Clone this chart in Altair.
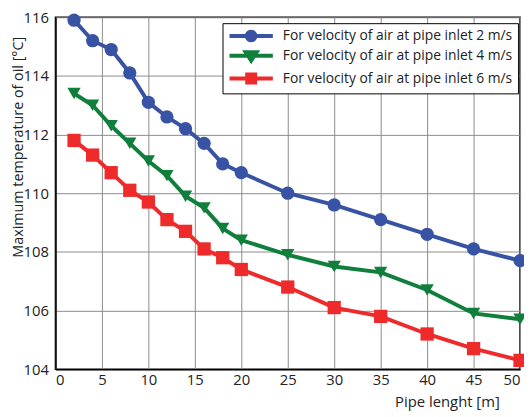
import altair as alt
import pandas as pd

x_vals = [2, 4, 6, 8, 10, 12, 14, 16, 18, 20, 25, 30, 35, 40, 45, 50]
blue_vals = [115.9, 115.2, 114.9, 114.1, 113.1, 112.6, 112.2, 111.7, 111.0, 110.7,
             110.0, 109.6, 109.1, 108.6, 108.1, 107.7]
green_vals = [113.4, 113.0, 112.3, 111.7, 111.1, 110.6, 109.9, 109.5, 108.8, 108.4,
              107.9, 107.5, 107.3, 106.7, 105.9, 105.7]
red_vals = [111.8, 111.3, 110.7, 110.1, 109.7, 109.1, 108.7, 108.1, 107.8, 107.4,
            106.8, 106.1, 105.8, 105.2, 104.7, 104.3]

series_names = [
    "For velocity of air at pipe inlet 2 m/s",
    "For velocity of air at pipe inlet 4 m/s",
    "For velocity of air at pipe inlet 6 m/s",
]
colors = ["#3953a4", "#0f7f3b", "#ee2a2b"]
shapes = ["circle", "triangle-down", "square"]
legend_shapes = [
    "M-3.1,-0.28L3.1,-0.28L3.1,0.28L-3.1,0.28Z"
    "M-0.9,0A0.9,0.9 0 1,1 0.9,0A0.9,0.9 0 1,1 -0.9,0Z",
    "M-3.1,-0.28L3.1,-0.28L3.1,0.28L-3.1,0.28Z"
    "M-1.3,-0.8L1.3,-0.8L0,1.2Z",
    "M-3.1,-0.28L3.1,-0.28L3.1,0.28L-3.1,0.28Z"
    "M-0.85,-0.85L0.85,-0.85L0.85,0.85L-0.85,0.85Z",
]
x_ticks = [0, 5, 10, 15, 20, 25, 30, 35, 40, 45, 50]
y_ticks = [104, 106, 108, 110, 112, 114, 116]

rows = []
for name, vals in zip(series_names, [blue_vals, green_vals, red_vals]):
    for xv, yv in zip(x_vals, vals):
        rows.append({"x": xv, "y": yv, "series": name})
df = pd.DataFrame(rows)

FONT = "Open Sans"

x_enc = alt.X("x:Q", scale=alt.Scale(domain=[0, 50], nice=False),
              axis=alt.Axis(title="Pipe lenght [m]", values=x_ticks, ticks=False,
                            labelPadding=4, titleAnchor="end", titleAlign="right",
                            titleX=449, titleY=38, titleBaseline="alphabetic",
                            titleFontWeight="normal"))
y_enc = alt.Y("y:Q", scale=alt.Scale(domain=[104, 116], nice=False, zero=False),
              axis=alt.Axis(title="Maximum temperature of oil [°C]", values=y_ticks,
                            ticks=False, labelPadding=7, titleX=-30, titleY=131,
                            titleAngle=270, titleBaseline="bottom",
                            titleFontWeight="normal", titleFontSize=14.5))

color_scale = alt.Scale(domain=series_names, range=colors)

base = alt.Chart(df).encode(x=x_enc, y=y_enc)

lines = base.mark_line(strokeWidth=4).encode(
    color=alt.Color("series:N", scale=color_scale, legend=None),
    detail="series:N",
)
points = base.mark_point(filled=True, size=180, opacity=1).encode(
    color=alt.Color("series:N", scale=color_scale, legend=None),
    shape=alt.Shape("series:N", scale=alt.Scale(domain=series_names, range=shapes),
                    legend=None),
)

leg = alt.Legend(title=None, orient="none", legendX=169, legendY=6,
                 strokeColor="black", fillColor="white", padding=5,
                 symbolSize=200, symbolOffset=16, symbolOpacity=1,
                 labelOffset=24, labelFontSize=14, labelFont=FONT,
                 labelColor="#222", rowPadding=1, labelLimit=0)

legend_layer = base.mark_point(filled=True, size=200, opacity=1, strokeWidth=0).encode(
    color=alt.Color("series:N", scale=color_scale, legend=leg),
    shape=alt.Shape("series:N",
                    scale=alt.Scale(domain=series_names, range=legend_shapes),
                    legend=leg),
).transform_filter("false")

chart = alt.layer(lines, points, legend_layer).resolve_scale(
    shape="independent", color="independent"
).properties(
    width=470, height=356,
    autosize=alt.AutoSizeParams(type="none"),
    padding={"left": 48, "top": 7, "right": 4, "bottom": 44},
).configure_view(
    stroke="black", strokeWidth=1.5
).configure_axis(
    grid=True, gridColor="#8c8c8c", gridWidth=1,
    domain=True, domainColor="black", domainWidth=1.5,
    labelFont=FONT, labelFontSize=15, labelColor="#222",
    titleFont=FONT, titleFontSize=15, titleColor="#222",
)

chart.save("out.html", embed_options={"renderer": "svg", "actions": False})
